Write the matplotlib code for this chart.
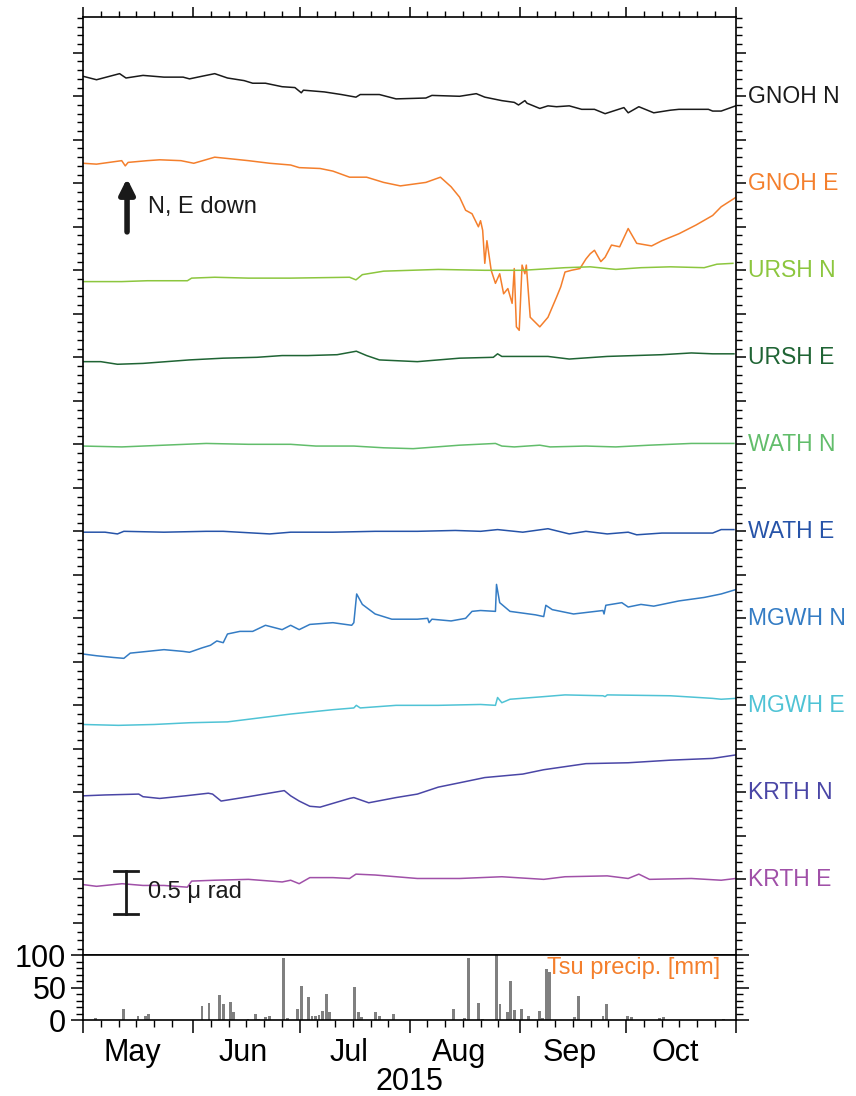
import pandas as pd
import matplotlib
matplotlib.use("Agg")
import matplotlib.pyplot as plt
import matplotlib.dates as mdates
import matplotlib.transforms as mtransforms
from matplotlib.ticker import MultipleLocator

plt.rcParams["font.family"] = ["Liberation Sans", "DejaVu Sans"]

t0 = pd.Timestamp("2015-05-01")

# tilt traces: days since 1 May, tilt in micro-radian relative to the station line
gnoh_n_day = [0, 3.8, 10.3, 12.1, 16.9, 22.8, 28.2, 30.0, 33.5, 37.1, 40.7, 45.4, 47.8, 51.4,
              56.1, 59.7, 61.5, 62.1, 68.0, 72.8, 76.9, 78.1, 83.5, 88.2, 96.6, 98.3, 106.1,
              110.8, 113.2, 118.0, 121.5, 122.7, 124.5, 125.1, 128.7, 131.0, 133.4, 137.0,
              140.5, 144.1, 147.1, 152.4, 153.6, 156.6, 160.8, 165.5, 167.9, 176.2, 177.4,
              179.8, 183.9]
gnoh_n_val = [0.23, 0.19, 0.26, 0.21, 0.24, 0.22, 0.22, 0.20, 0.23, 0.26, 0.21, 0.18, 0.15, 0.15,
              0.11, 0.10, 0.04, 0.07, 0.05, 0.02, -0.01, 0.02, 0.02, -0.03, -0.02, 0.01, 0.00,
              0.03, -0.01, -0.05, -0.07, -0.10, -0.05, -0.08, -0.14, -0.11, -0.12, -0.11,
              -0.15, -0.15, -0.20, -0.13, -0.19, -0.12, -0.19, -0.16, -0.15, -0.15, -0.17,
              -0.17, -0.11]

gnoh_e_day = [0, 3.8, 10.9, 11.9, 12.7, 18.1, 21.6, 27.6, 31.2, 37.1, 41.9, 46.6, 52.6, 58.5,
              60.9, 66.8, 70.4, 75.1, 79.9, 84.7, 89.4, 93.0, 96.6, 100.7, 103.7, 106.1, 107.8,
              109.6, 111.4, 112.0, 112.6, 113.2, 113.8, 115.0, 116.2, 117.4, 118.5, 119.7,
              120.9, 121.5, 122.1, 122.9, 123.7, 124.5, 124.9, 126.0, 128.7, 131.0, 133.4,
              134.6, 135.8, 137.6, 140.0, 141.7, 142.9, 144.1, 145.9, 147.1, 148.9, 151.2,
              153.6, 156.0, 160.2, 163.1, 167.9, 172.7, 177.4, 179.8, 184.0]
gnoh_e_val = [0.23, 0.22, 0.26, 0.20, 0.24, 0.26, 0.27, 0.26, 0.23, 0.30, 0.28, 0.26, 0.23, 0.21,
              0.18, 0.17, 0.14, 0.07, 0.07, 0.01, -0.03, -0.01, 0.01, 0.07, -0.04, -0.16, -0.31,
              -0.35, -0.50, -0.43, -0.54, -0.92, -0.66, -1.00, -1.15, -1.04, -1.27, -1.21,
              -1.38, -0.98, -1.65, -1.69, -0.94, -1.04, -0.94, -1.54, -1.65, -1.54, -1.31,
              -1.19, -1.02, -1.00, -0.98, -0.87, -0.81, -0.77, -0.90, -0.85, -0.71, -0.73,
              -0.52, -0.69, -0.72, -0.66, -0.58, -0.48, -0.37, -0.27, -0.16]

ursh_n_day = [0, 10.9, 18.1, 29.4, 30.6, 37.1, 46.6, 58.5, 75.1, 76.9, 78.7, 84.7, 100.1, 113.2,
              123.9, 135.8, 142.9, 150.1, 157.2, 165.5, 175.0, 178.6, 183.1]
ursh_n_val = [-0.13, -0.13, -0.12, -0.12, -0.09, -0.08, -0.09, -0.09, -0.08, -0.11, -0.05,
              -0.01, 0.01, 0.00, 0.00, 0.03, 0.04, 0.01, 0.03, 0.04, 0.03, 0.07, 0.08]

ursh_e_day = [0, 5.0, 9.7, 16.9, 30.0, 39.5, 49.0, 56.1, 63.3, 71.6, 77.0, 79.9, 83.5, 94.2,
              106.1, 115.6, 116.8, 118.0, 131.0, 137.0, 147.7, 163.1, 171.4, 177.4, 183.4]
ursh_e_val = [-0.05, -0.05, -0.08, -0.07, -0.03, -0.01, 0.00, 0.02, 0.02, 0.03, 0.07, 0.02,
              -0.03, -0.05, -0.01, 0.00, 0.04, 0.01, 0.01, -0.02, 0.01, 0.03, 0.05, 0.04, 0.04]

wath_n_day = [0, 10.9, 22.8, 34.7, 46.6, 58.5, 65.6, 76.3, 84.7, 93.0, 106.1, 116.2, 118.0,
              121.5, 128.7, 131.6, 141.7, 150.1, 159.6, 171.4, 183.4]
wath_n_val = [-0.02, -0.03, -0.01, 0.01, 0.00, 0.00, -0.02, -0.02, -0.04, -0.05, -0.01, 0.01,
              -0.02, -0.03, -0.01, -0.03, -0.02, -0.03, -0.01, 0.01, 0.01]

wath_e_day = [0, 6.2, 9.7, 11.5, 22.8, 34.7, 39.5, 52.6, 58.5, 70.4, 82.3, 94.2, 104.9, 112.0,
              116.8, 123.9, 131.0, 137.0, 141.7, 147.7, 153.6, 156.0, 163.1, 177.4, 179.8, 183.4]
wath_e_val = [-0.01, -0.01, -0.03, 0.00, -0.01, 0.00, 0.00, -0.03, -0.01, -0.01, 0.00, 0.00,
              0.01, 0.00, 0.02, -0.01, 0.03, -0.03, 0.00, -0.03, -0.01, -0.04, -0.02, -0.02,
              0.02, 0.02]

mgwh_n_day = [0, 3.8, 8.6, 11.5, 13.3, 18.1, 22.8, 28.2, 30.0, 33.5, 35.9, 37.7, 39.5, 40.7,
              44.2, 47.8, 51.4, 56.1, 58.5, 60.9, 63.9, 70.4, 75.7, 76.3, 77.1, 78.7, 82.3,
              87.0, 94.2, 97.1, 97.5, 98.3, 103.7, 107.8, 109.6, 112.0, 116.2, 116.5, 117.4,
              120.3, 127.5, 129.8, 130.4, 132.2, 138.2, 146.5, 146.8, 147.3, 151.8, 153.6,
              157.2, 160.8, 167.9, 175.0, 177.4, 179.8, 183.9]
mgwh_n_val = [-0.41, -0.43, -0.45, -0.46, -0.40, -0.38, -0.36, -0.38, -0.39, -0.34, -0.31,
              -0.26, -0.28, -0.18, -0.15, -0.15, -0.08, -0.13, -0.08, -0.13, -0.07, -0.05,
              -0.08, -0.05, 0.28, 0.16, 0.05, -0.01, -0.01, 0.00, -0.05, -0.01, -0.03, 0.00,
              0.08, 0.09, 0.08, 0.39, 0.18, 0.08, 0.04, 0.02, 0.15, 0.10, 0.05, 0.09, 0.05,
              0.15, 0.18, 0.13, 0.16, 0.14, 0.20, 0.24, 0.26, 0.28, 0.33]

mgwh_e_day = [0, 10, 20, 30, 40.7, 58.5, 70.4, 76.3, 77.0, 78.1, 88.2, 100.1, 112.0, 116.2,
              116.8, 118.0, 120.3, 129.8, 135.8, 146.5, 147.1, 147.7, 165.5, 177.4, 179.8, 183.9]
mgwh_e_val = [-0.22, -0.23, -0.22, -0.20, -0.19, -0.10, -0.05, -0.03, 0.00, -0.03, 0.00, 0.00,
              0.01, 0.00, 0.09, 0.03, 0.07, 0.10, 0.12, 0.11, 0.10, 0.12, 0.11, 0.08, 0.07, 0.08]

krth_n_day = [0, 6.2, 15.7, 16.9, 21.6, 28.8, 35.3, 36.5, 38.9, 46.6, 56.7, 58.5, 60.9, 63.9,
              66.8, 75.1, 76.3, 80.5, 88.2, 94.2, 100.1, 106.1, 113.2, 123.9, 129.8, 141.7,
              153.6, 165.5, 177.4, 183.9]
krth_n_val = [-0.04, -0.03, -0.02, -0.05, -0.07, -0.04, -0.01, -0.02, -0.10, -0.05, 0.02, -0.04,
              -0.10, -0.16, -0.17, -0.07, -0.06, -0.12, -0.06, -0.02, 0.06, 0.11, 0.17, 0.21,
              0.26, 0.33, 0.34, 0.37, 0.39, 0.43]

krth_e_day = [0, 3.8, 11.0, 16.9, 22.8, 29.4, 30.6, 37.1, 46.6, 56.1, 58.5, 60.9, 63.9, 70.4,
              75.1, 76.9, 82.3, 94.2, 106.1, 118.0, 129.8, 135.8, 147.7, 153.6, 156.6, 159.6,
              171.4, 179.8, 183.9]
krth_e_val = [-0.06, -0.08, -0.05, -0.07, -0.07, -0.09, -0.02, -0.01, 0.00, -0.03, -0.01, -0.05,
              0.02, 0.02, 0.01, 0.06, 0.05, 0.01, 0.01, 0.03, 0.00, 0.03, 0.04, 0.01, 0.06, 0.00,
              0.01, -0.01, 0.01]

names = ["GNOH N", "GNOH E", "URSH N", "URSH E", "WATH N",
         "WATH E", "MGWH N", "MGWH E", "KRTH N", "KRTH E"]
colors = ["#1a1a1a", "#f47f2c", "#8cc63e", "#1f6434", "#62bd6b",
          "#2653a8", "#347cc4", "#4fc3d5", "#4a46a6", "#a050a8"]
days = [gnoh_n_day, gnoh_e_day, ursh_n_day, ursh_e_day, wath_n_day,
        wath_e_day, mgwh_n_day, mgwh_e_day, krth_n_day, krth_e_day]
vals = [gnoh_n_val, gnoh_e_val, ursh_n_val, ursh_e_val, wath_n_val,
        wath_e_val, mgwh_n_val, mgwh_e_val, krth_n_val, krth_e_val]
spacing = 1.0  # micro-radian between stacked traces

# daily precipitation at Tsu (mm)
rain_date = ["2015-05-04", "2015-05-12", "2015-05-16", "2015-05-18", "2015-05-19",
             "2015-06-03", "2015-06-05", "2015-06-08", "2015-06-09", "2015-06-11",
             "2015-06-12", "2015-06-16", "2015-06-18", "2015-06-19", "2015-06-21",
             "2015-06-22", "2015-06-26", "2015-06-27", "2015-06-30", "2015-07-01",
             "2015-07-03", "2015-07-04", "2015-07-05", "2015-07-06", "2015-07-07",
             "2015-07-08", "2015-07-09", "2015-07-16", "2015-07-17", "2015-07-18",
             "2015-07-22", "2015-07-23", "2015-07-27", "2015-08-13", "2015-08-16",
             "2015-08-17", "2015-08-20", "2015-08-21", "2015-08-25", "2015-08-26",
             "2015-08-28", "2015-08-29", "2015-08-30", "2015-09-01", "2015-09-03",
             "2015-09-06", "2015-09-07", "2015-09-08", "2015-09-09", "2015-09-16",
             "2015-09-17", "2015-09-24", "2015-09-25", "2015-10-01", "2015-10-02",
             "2015-10-10", "2015-10-11", "2015-10-28"]
rain_mm = [3, 17.5, 6, 6, 10,
           21, 25.5, 38, 24, 28,
           13, 1, 10, 2, 4,
           6, 95, 3, 17.5, 52,
           35, 6, 6, 7.5, 14,
           40, 12, 51, 13, 4,
           13, 6, 10, 17.5, 3,
           95, 25.5, 1.5, 105, 24,
           13, 60.6, 16, 17.5, 6,
           14.5, 3, 78, 74.5, 5,
           36.7, 6, 24, 6, 5,
           3, 5, 1.5]

months = ["May", "Jun", "Jul", "Aug", "Sep", "Oct"]

fig = plt.figure(figsize=(8.56, 10.96), dpi=100)
ax = fig.add_axes([0.0970, 0.1286, 0.7629, 0.8558])
axp = fig.add_axes([0.0970, 0.0693, 0.7629, 0.0593], sharex=ax)

lab_tr = mtransforms.blended_transform_factory(ax.transAxes, ax.transData)
for k in range(len(names)):
    t = t0 + pd.to_timedelta(days[k], unit="D")
    y = [v - k * spacing for v in vals[k]]
    ax.plot(t, y, color=colors[k], linewidth=1.1)
    ax.text(1.018, -k * spacing, names[k], color=colors[k], fontsize=16.5,
            ha="left", va="center", transform=lab_tr)

ax.set_xlim(t0, pd.Timestamp("2015-11-01"))
ax.set_ylim(-9.87, 0.91)
ax.yaxis.set_major_locator(MultipleLocator(0.5))
ax.yaxis.set_minor_locator(MultipleLocator(0.1))
ax.xaxis.set_major_locator(mdates.MonthLocator())
ax.xaxis.set_minor_locator(mdates.DayLocator(bymonthday=[6, 11, 16, 21, 26]))
ax.tick_params(axis="x", which="both", bottom=False, top=True, labelbottom=False, direction="out")
ax.tick_params(axis="y", which="both", left=True, right=True, labelleft=False, direction="out")
ax.tick_params(which="major", length=7, width=1.1)
ax.tick_params(which="minor", length=4, width=1.0)
for s in ax.spines.values():
    s.set_linewidth(1.2)

# polarity arrow
ax.annotate("", xy=(0.0674, 0.828), xytext=(0.0674, 0.771), xycoords="axes fraction",
            arrowprops=dict(arrowstyle="-|>,head_length=0.9,head_width=0.45", color="#1a1a1a",
                            lw=4, shrinkA=0, shrinkB=0))
ax.text(0.0995, 0.7974, "N, E down", fontsize=17, ha="left", va="center", color="#1a1a1a",
        transform=ax.transAxes)

# 0.5 micro-radian scale bar
y_top, y_bot = -8.90, -8.90 - 0.5
ax.plot([0.066, 0.066], [y_bot, y_top], color="#1a1a1a", lw=2, transform=lab_tr)
ax.plot([0.048, 0.084], [y_top, y_top], color="#1a1a1a", lw=2, transform=lab_tr)
ax.plot([0.048, 0.084], [y_bot, y_bot], color="#1a1a1a", lw=2, transform=lab_tr)
ax.text(0.0995, (y_top + y_bot) / 2, "0.5 \u03bc rad", fontsize=17, ha="left", va="center",
        color="#1a1a1a", transform=lab_tr)

# precipitation panel
rt = pd.to_datetime(rain_date) + pd.Timedelta(hours=12)
axp.bar(rt, rain_mm, width=0.8, color="#808080", edgecolor="none")
axp.set_ylim(0, 100)
axp.yaxis.set_major_locator(MultipleLocator(50))
axp.yaxis.set_minor_locator(MultipleLocator(10))
axp.tick_params(axis="y", which="both", left=True, right=True, direction="out")
axp.tick_params(axis="x", which="both", bottom=True, top=False, labelbottom=False, direction="out")
axp.tick_params(which="major", length=9, width=1.1, labelsize=22, pad=3)
axp.tick_params(which="minor", length=5, width=1.0)
for s in axp.spines.values():
    s.set_linewidth(1.2)
axp.text(0.9755, 0.80, "Tsu precip. [mm]", color="#f47f2c", fontsize=17, ha="right",
         va="center", transform=axp.transAxes)

mt = mtransforms.blended_transform_factory(axp.transData, axp.transAxes)
for i, m in enumerate(months):
    mid = pd.Timestamp(2015, 5 + i, 15)
    axp.text(mid, -0.5, m, fontsize=22, ha="center", va="center", transform=mt)
axp.text(0.5, -0.95, "2015", fontsize=22, ha="center", va="center", transform=axp.transAxes)

fig.savefig("out.png", dpi=100)
